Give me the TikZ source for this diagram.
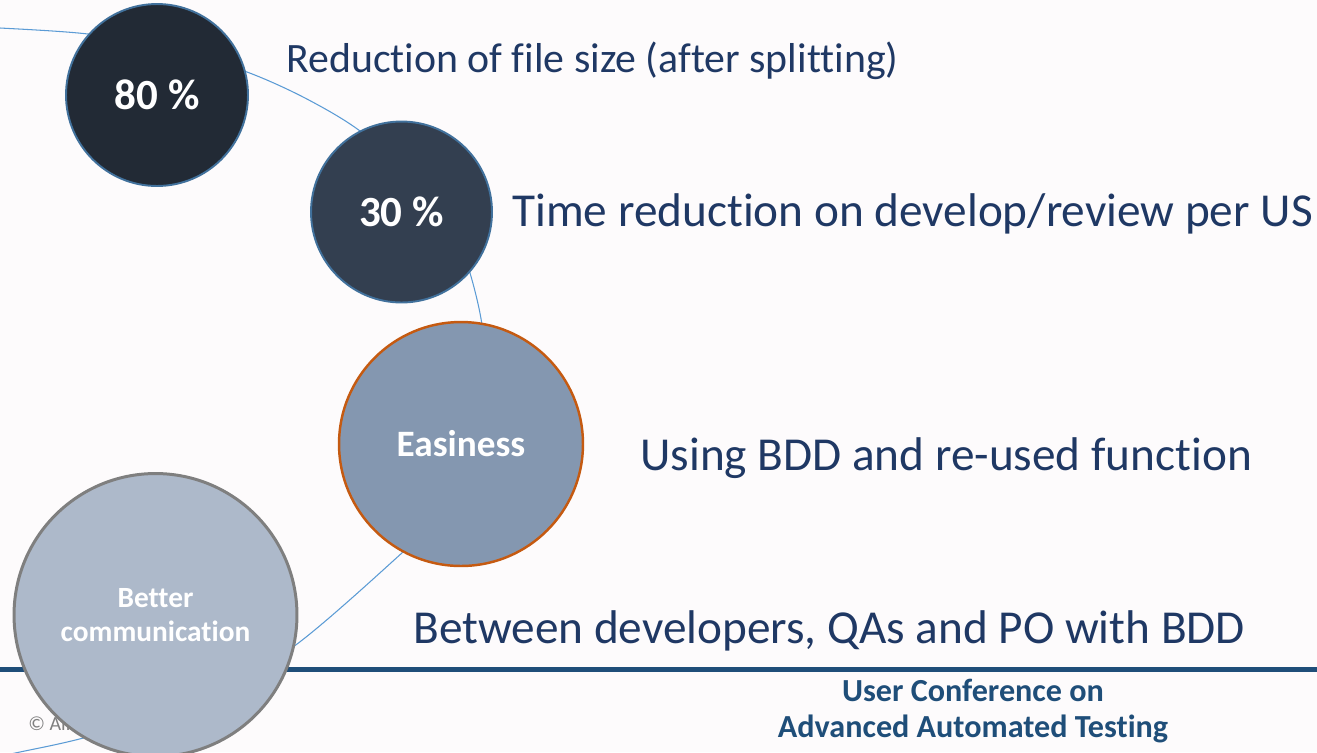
\documentclass[tikz,border=0pt]{standalone}
\usepackage{fontspec}
\setmainfont{Carlito}[Ligatures=NoCommon]
\usepackage{tikz}
\usetikzlibrary{positioning}
\definecolor{paper}{RGB}{253,251,252}
\definecolor{inkblue}{HTML}{1F3864}
\definecolor{rulerblue}{HTML}{1F4E79}
\definecolor{arcblue}{HTML}{5B9BD5}
\definecolor{rimblue}{HTML}{41719C}
\definecolor{rimorange}{HTML}{C55A11}
\definecolor{rimgrey}{HTML}{7F7F7F}
\definecolor{darkest}{HTML}{222A35}
\definecolor{darker}{HTML}{333F50}
\definecolor{midblue}{HTML}{8497B0}
\definecolor{paleblue}{HTML}{ADB9CA}
\newcommand{\claimfont}{\fontsize{26.9}{31}\selectfont}

\begin{document}
\begin{tikzpicture}[x=0.02cm, y=-0.02cm,
    bubble/.style={circle, draw=rimblue, line width=1.1pt, text=white, inner sep=0pt,
      font=\bfseries\fontsize{24.5}{28}\selectfont},
    claim/.style={anchor=base west, inner sep=0pt, text=inkblue, font=\claimfont},
    footer/.style={anchor=base, inner sep=0pt, text=rulerblue, font=\bfseries\fontsize{18.3}{21}\selectfont},
    curveline/.style={draw=arcblue, line width=0.6pt}]
        \fill[paper] (0,0) rectangle (1317,752);
        \useasboundingbox (0,0) rectangle (1317,752);

        % arc behind the circles
        \draw[curveline] plot[smooth, tension=0.5] coordinates {(-40,27) (0,28) (88,34) (170,48) (247,72)
          (305,98) (360,131) (420,185) (455,235) (470,273) (482,325) (486,390) (470,470) (440,515)
          (403,552) (293,647) (190,705) (87,737) (20,752) (-20,760)};
        \draw[rulerblue, line width=2.8pt] (0,669.5) -- (1317,669.5);
        \node[anchor=base west, inner sep=0pt, text=rimgrey, font=\fontsize{11.4}{13}\selectfont]
          (copy) at (28,730) {© All};

        \node[bubble, fill=darkest, minimum size=3.64cm] (eighty) at (157,95) {80 \%};
        \node[bubble, fill=darker, minimum size=3.62cm] (thirty) at (401.5,212) {30 \%};
        \node[bubble, fill=midblue, draw=rimorange, line width=1.4pt, minimum size=4.88cm,
          font=\bfseries\fontsize{21.2}{25}\selectfont] (easy) at (461,444) {Easiness};
        \node[bubble, fill=paleblue, draw=rimgrey, line width=1.7pt, minimum size=5.66cm, align=center,
          font=\bfseries\fontsize{16.7}{19.5}\selectfont] (talk) at (155.5,615) {Better\\communication};

        \node[claim, font=\fontsize{23.8}{27}\selectfont] (sizetxt) at (286,72) {Reduction of file size (after splitting)};
        \node[claim] (timetxt) at (512,226) {Time reduction on develop/review per US};
        \node[claim] (bddtxt) at (640,470) {Using BDD and re-used function};
        \node[claim] (talktxt) at (413,643) {Between developers, QAs and PO with BDD};

        \node[footer] (conf) at (973,701) {User Conference on};
        \node[footer] (aat) at (973,737) {Advanced Automated Testing};
      \end{tikzpicture}
\end{document}
